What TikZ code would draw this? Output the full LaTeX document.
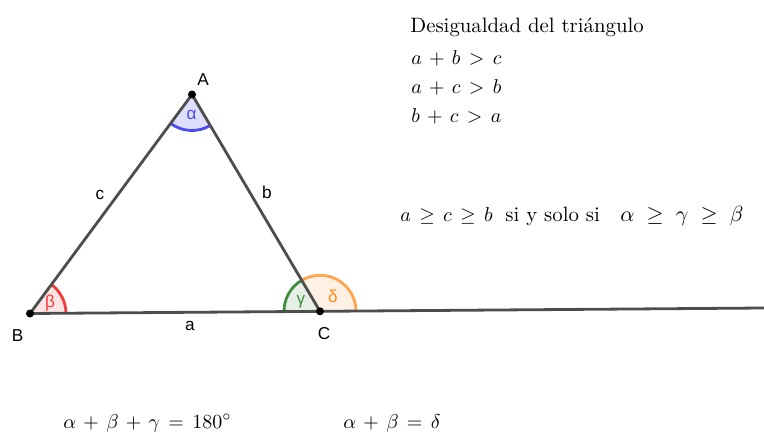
\documentclass[tikz,border=0pt]{standalone}
\usepackage{fontspec}
\newfontfamily\lblfont{Liberation Sans}
\usetikzlibrary{angles, positioning}
\medmuskip=6.5mu plus 2mu minus 4mu
\thickmuskip=7.5mu plus 5mu
\definecolor{sidegray}{HTML}{4D4D4D}
\definecolor{alphablue}{HTML}{4A4AF5}
\definecolor{betared}{HTML}{F53A3A}
\definecolor{gammagreen}{HTML}{3F8F3F}
\definecolor{deltaorange}{HTML}{FFA64D}
\definecolor{deltatext}{HTML}{FF8C1A}

\begin{document}
\begin{tikzpicture}[
  x=0.5pt, y=-0.5pt,
  side/.style={draw=sidegray, line width=1.4pt},
  dot/.style={fill=black},
  sector/.style={angle radius=18pt, line width=1.4pt},
  lbl/.style={inner sep=0pt, font=\lblfont\fontsize{8.6}{10}\selectfont},
  formula/.style={inner sep=0pt, anchor=base west, font=\fontsize{10.4}{12}\selectfont}
]
\useasboundingbox (0,0) rectangle (764,432);

\coordinate (A) at (192,94.5);
\coordinate (B) at (30,313.5);
\coordinate (C) at (320,311.3);
\coordinate (E) at (764,308);

\pic[sector, draw=alphablue, fill=alphablue!18] {angle=B--A--C};
\pic[sector, draw=betared, fill=betared!13] {angle=C--B--A};
\pic[sector, draw=gammagreen, fill=gammagreen!13] {angle=A--C--B};
\pic[sector, draw=deltaorange, fill=deltaorange!15] {angle=E--C--A};

\draw[side] (B) -- (A) -- (C);
\draw[side] (B) -- (E);

\fill[dot] (A) circle (2pt);
\fill[dot] (B) circle (2pt);
\fill[dot] (C) circle (2pt);

\node[lbl] (labA) at (203,80) {A};
\node[lbl] (labB) at (17.5,335.5) {B};
\node[lbl] (labC) at (324,333.5) {C};
\node[lbl] (laba) at (190,325.5) {a};
\node[lbl] (labb) at (267,192) {b};
\node[lbl] (labc) at (100,195) {c};
\node[lbl, text=alphablue] (angA) at (191.5,114.5) {α};
\node[lbl, text=betared] (angB) at (50,303) {β};
\node[lbl, text=gammagreen] (angC) at (301,302) {γ};
\node[lbl, text=deltatext] (angD) at (333,296) {δ};

\node[formula] (title) at (410,33) {Desigualdad del triángulo};
\node[formula] (ineqab) at (411,65) {$a+b>c$};
\node[formula] (ineqac) at (411,94) {$a+c>b$};
\node[formula] (ineqbc) at (411,123) {$b+c>a$};

\node[formula] (sides) at (400,222) {$a\geq c\geq b$};
\node[formula] (iff) at (505,222) {si y solo si};
\node[formula, font=\fontsize{11}{13}\selectfont] (angles) at (620,222)
  {\thickmuskip=10mu $\alpha\geq\gamma\geq\beta$};

\node[formula] (sumangles) at (63,428) {$\alpha+\beta+\gamma=180^\circ$};
\node[formula] (exterior) at (343,428) {$\alpha+\beta=\delta$};
\end{tikzpicture}
\end{document}
